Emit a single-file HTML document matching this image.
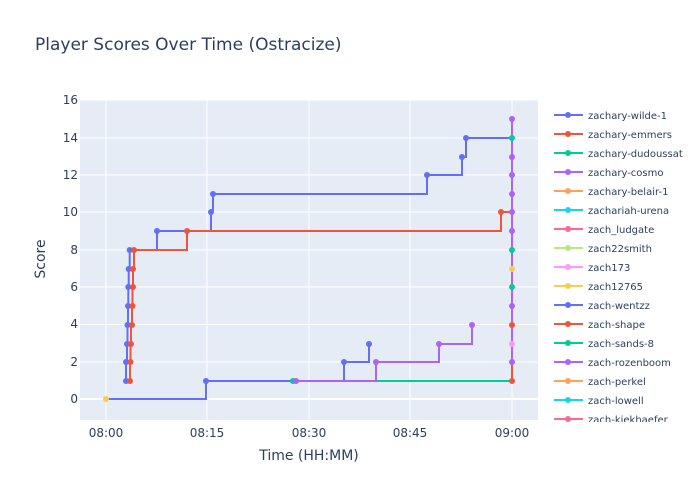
<!DOCTYPE html>
<html><head><meta charset="utf-8"><style>body{margin:0;background:#fff}svg{display:block;font-family:"DejaVu Sans","Liberation Sans",sans-serif}</style></head><body>
<svg width="700" height="500" xmlns="http://www.w3.org/2000/svg">
<rect width="700" height="500" fill="#fff"/>
<rect x="80" y="100" width="458" height="320" fill="#e5ecf6"/>
<g stroke="#fff" stroke-width="1">
<line x1="80" x2="538" y1="399" y2="399" stroke-width="2"/>
<line x1="80" x2="538" y1="362" y2="362"/><line x1="80" x2="538" y1="324.5" y2="324.5"/>
<line x1="80" x2="538" y1="287" y2="287"/><line x1="80" x2="538" y1="250" y2="250"/>
<line x1="80" x2="538" y1="212" y2="212"/><line x1="80" x2="538" y1="175" y2="175"/>
<line x1="80" x2="538" y1="138" y2="138"/><line x1="80" x2="538" y1="100" y2="100"/>
<line y1="100" y2="420" x1="106" x2="106"/><line y1="100" y2="420" x1="207" x2="207"/>
<line y1="100" y2="420" x1="309" x2="309"/><line y1="100" y2="420" x1="410" x2="410"/>
<line y1="100" y2="420" x1="512" x2="512"/>
</g>
<g fill="#2a3f5f" font-size="12" text-anchor="end">
<text x="78" y="403">0</text><text x="78" y="366">2</text><text x="78" y="328">4</text>
<text x="78" y="291">6</text><text x="78" y="254">8</text><text x="78" y="216">10</text>
<text x="78" y="179">12</text><text x="78" y="142">14</text><text x="78" y="104">16</text>
</g>
<g fill="#2a3f5f" font-size="12" text-anchor="middle">
<text x="106" y="437">08:00</text><text x="207" y="437">08:15</text><text x="309" y="437">08:30</text>
<text x="410" y="437">08:45</text><text x="512" y="437">09:00</text>
<text x="309" y="460" font-size="14">Time (HH:MM)</text>
<text transform="translate(45,259) rotate(-90)" font-size="14">Score</text>
</g>
<text x="35" y="50" font-size="17" fill="#2a3f5f">Player Scores Over Time (Ostracize)</text>
<g fill="none" stroke-width="2">
<polyline stroke="#00cc96" points="293,381 512,381"/>
<polyline stroke="#636efa" points="106,399 206,399 206,381 344,381 344,362 369,362 369,344"/>
<polyline stroke="#ab63fa" points="296,381 376,381 376,362 439,362 439,344 472,344 472,325"/>
<polyline stroke="#636efa" points="126,381 126,362 127,362 127,344 127.5,344 127.5,325 128,325 128,306 128.3,306 128.3,287 128.7,287 128.7,269 129.7,269 129.7,250 157,250 157,231 211,231 211,212 213,212 213,194 427,194 427,175 462,175 462,157 466,157 466,138 512,138"/>
<polyline stroke="#EF553B" points="130,381 130,362 130.5,362 130.5,344 131,344 131,325 132,325 132,306 132.5,306 132.5,287 133,287 133,269 134,269 134,250 187,250 187,231 501,231 501,212 512,212"/>
<polyline stroke="#EF553B" points="512,381 512,362"/>
<polyline stroke="#ab63fa" points="512,362 512,119"/>
</g>
<g fill="#636efa"><circle cx="126" cy="381" r="3"/><circle cx="126" cy="362" r="3"/><circle cx="127" cy="344" r="3"/><circle cx="127.5" cy="325" r="3"/><circle cx="128" cy="306" r="3"/><circle cx="128.3" cy="287" r="3"/><circle cx="128.7" cy="269" r="3"/><circle cx="129.7" cy="250" r="3"/><circle cx="157" cy="231" r="3"/><circle cx="211" cy="212" r="3"/><circle cx="213" cy="194" r="3"/><circle cx="427" cy="175" r="3"/><circle cx="462" cy="157" r="3"/><circle cx="466" cy="138" r="3"/><circle cx="206" cy="381" r="3"/><circle cx="344" cy="362" r="3"/><circle cx="369" cy="344" r="3"/></g>
<g fill="#EF553B"><circle cx="130" cy="381" r="3"/><circle cx="130.5" cy="362" r="3"/><circle cx="131" cy="344" r="3"/><circle cx="132" cy="325" r="3"/><circle cx="132.5" cy="306" r="3"/><circle cx="133" cy="287" r="3"/><circle cx="133" cy="269" r="3"/><circle cx="134" cy="250" r="3"/><circle cx="187" cy="231" r="3"/><circle cx="501" cy="212" r="3"/><circle cx="512" cy="381" r="3"/><circle cx="512" cy="325" r="3"/></g>
<g fill="#00cc96"><circle cx="293" cy="381" r="3"/><circle cx="512" cy="138" r="3"/><circle cx="512" cy="250" r="3"/><circle cx="512" cy="287" r="3"/></g>
<g fill="#ab63fa"><circle cx="296" cy="381" r="3"/><circle cx="376" cy="362" r="3"/><circle cx="439" cy="344" r="3"/><circle cx="472" cy="325" r="3"/><circle cx="512" cy="119" r="3"/><circle cx="512" cy="157" r="3"/><circle cx="512" cy="175" r="3"/><circle cx="512" cy="194" r="3"/><circle cx="512" cy="212" r="3"/><circle cx="512" cy="231" r="3"/><circle cx="512" cy="306" r="3"/><circle cx="512" cy="362" r="3"/></g>
<circle cx="512" cy="269" r="3" fill="#FECB52"/><circle cx="512" cy="344" r="3" fill="#FF97FF"/>
<circle cx="106" cy="399" r="3" fill="#FECB52"/>
<defs><clipPath id="lc"><rect x="548" y="100" width="152" height="322"/></clipPath></defs>
<g clip-path="url(#lc)" font-size="10" fill="#2a3f5f" stroke-width="2">
<line x1="554" x2="583" y1="115" y2="115" stroke="#636efa"/><circle cx="568" cy="115" r="3" fill="#636efa"/><text x="588" y="119">zachary-wilde-1</text>
<line x1="554" x2="583" y1="134" y2="134" stroke="#EF553B"/><circle cx="568" cy="134" r="3" fill="#EF553B"/><text x="588" y="138">zachary-emmers</text>
<line x1="554" x2="583" y1="153" y2="153" stroke="#00cc96"/><circle cx="568" cy="153" r="3" fill="#00cc96"/><text x="588" y="157">zachary-dudoussat</text>
<line x1="554" x2="583" y1="172" y2="172" stroke="#ab63fa"/><circle cx="568" cy="172" r="3" fill="#ab63fa"/><text x="588" y="176">zachary-cosmo</text>
<line x1="554" x2="583" y1="191" y2="191" stroke="#FFA15A"/><circle cx="568" cy="191" r="3" fill="#FFA15A"/><text x="588" y="195">zachary-belair-1</text>
<line x1="554" x2="583" y1="210" y2="210" stroke="#19d3f3"/><circle cx="568" cy="210" r="3" fill="#19d3f3"/><text x="588" y="214">zachariah-urena</text>
<line x1="554" x2="583" y1="229" y2="229" stroke="#FF6692"/><circle cx="568" cy="229" r="3" fill="#FF6692"/><text x="588" y="233">zach_ludgate</text>
<line x1="554" x2="583" y1="248" y2="248" stroke="#B6E880"/><circle cx="568" cy="248" r="3" fill="#B6E880"/><text x="588" y="252">zach22smith</text>
<line x1="554" x2="583" y1="267" y2="267" stroke="#FF97FF"/><circle cx="568" cy="267" r="3" fill="#FF97FF"/><text x="588" y="271">zach173</text>
<line x1="554" x2="583" y1="286" y2="286" stroke="#FECB52"/><circle cx="568" cy="286" r="3" fill="#FECB52"/><text x="588" y="290">zach12765</text>
<line x1="554" x2="583" y1="305" y2="305" stroke="#636efa"/><circle cx="568" cy="305" r="3" fill="#636efa"/><text x="588" y="309">zach-wentzz</text>
<line x1="554" x2="583" y1="324" y2="324" stroke="#EF553B"/><circle cx="568" cy="324" r="3" fill="#EF553B"/><text x="588" y="328">zach-shape</text>
<line x1="554" x2="583" y1="343" y2="343" stroke="#00cc96"/><circle cx="568" cy="343" r="3" fill="#00cc96"/><text x="588" y="347">zach-sands-8</text>
<line x1="554" x2="583" y1="362" y2="362" stroke="#ab63fa"/><circle cx="568" cy="362" r="3" fill="#ab63fa"/><text x="588" y="366">zach-rozenboom</text>
<line x1="554" x2="583" y1="381" y2="381" stroke="#FFA15A"/><circle cx="568" cy="381" r="3" fill="#FFA15A"/><text x="588" y="385">zach-perkel</text>
<line x1="554" x2="583" y1="400" y2="400" stroke="#19d3f3"/><circle cx="568" cy="400" r="3" fill="#19d3f3"/><text x="588" y="404">zach-lowell</text>
<line x1="554" x2="583" y1="419" y2="419" stroke="#FF6692"/><circle cx="568" cy="419" r="3" fill="#FF6692"/><text x="588" y="423">zach-kiekhaefer</text>
</g>
</svg>
</body></html>
